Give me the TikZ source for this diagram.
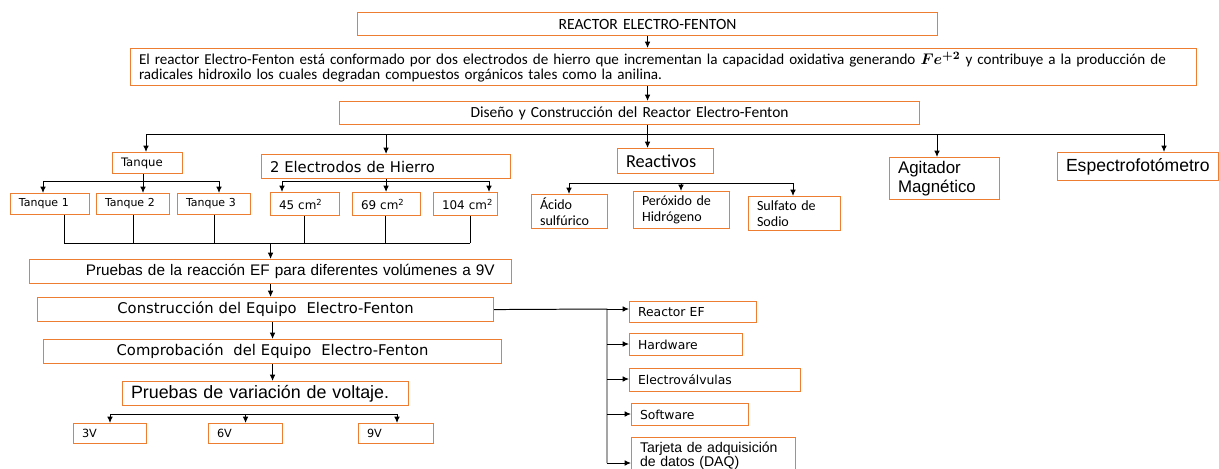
\documentclass[tikz,border=0pt]{standalone}
\usepackage{amsmath}
\usepackage{fontspec}
\setmainfont{Carlito}
\newfontfamily\verdana{DejaVu Sans}
\newfontfamily\arial{Liberation Sans}
\usetikzlibrary{arrows.meta}

\definecolor{naranja}{RGB}{237,125,49}
\newcommand\fc[2]{\fontsize{#1}{#2}\selectfont}
\newcommand\fv[2]{\verdana\fontsize{#1}{#2}\selectfont}
\newcommand\fa[2]{\arial\fontsize{#1}{#2}\selectfont}

\tikzset{
  caja/.style={draw=naranja, line width=0.8pt, anchor=north west, inner xsep=6pt, inner ysep=0pt, align=left},
  tam/.style 2 args={text width=#1*0.025cm-12pt, minimum height=#2*0.025cm},
  linea/.style={line width=0.7pt},
  flecha/.style={linea, -{Latex[length=4.5pt,width=4pt]}},
}

\begin{document}
\begin{tikzpicture}[x=0.025cm, y=-0.025cm]
\useasboundingbox (0,0) rectangle (1219,468);

% cabecera
\node[caja, tam={580}{23}, align=center, font=\fc{11.1}{12}] (titulo) at (357,12) {REACTOR ELECTRO-FENTON};
\node[caja, tam={1066}{37}, font=\fc{10.75}{10.9}] (parrafo) at (130,48) {El reactor Electro-Fenton está conformado por dos electrodos de hierro que incrementan la capacidad oxidativa generando $\boldsymbol{Fe^{+2}}$ y contribuye a la producción de\\radicales hidroxilo los cuales degradan compuestos orgánicos tales como la anilina.};
\node[caja, tam={580}{23}, align=center, font=\fc{11}{12}] (diseno) at (339,101) {Diseño y Construcción del Reactor Electro-Fenton};

% segundo nivel
\node[caja, tam={70}{21}, font=\fv{8.3}{10}] (tanque) at (112,152) {Tanque};
\node[caja, tam={249}{24}, font=\fv{10.5}{12}] (electrodos) at (261,154) {2 Electrodos de Hierro};
\node[caja, tam={96}{25}, font=\fc{13}{15}] (reactivos) at (617,148) {Reactivos};
\node[caja, tam={110}{42}, font=\fa{12}{13.5}] (agitador) at (889,157) {Agitador\\Magnético};
\node[caja, tam={161}{28}, font=\fa{12.5}{14}] (espectro) at (1057,152) {Espectrofotómetro};

% tanques y areas
\node[caja, tam={79}{21}, font=\fv{7.8}{9}] (tanque1) at (10,193) {Tanque 1};
\node[caja, tam={73}{21}, font=\fv{7.8}{9}] (tanque2) at (96,193) {Tanque 2};
\node[caja, tam={73}{21}, font=\fv{7.8}{9}] (tanque3) at (177,193) {Tanque 3};
\node[caja, tam={69}{23}, font=\fv{8.5}{10}] (a45) at (270,192) {45~cm\textsuperscript{2}};
\node[caja, tam={68}{23}, font=\fv{8.5}{10}] (a69) at (352,192) {69~cm\textsuperscript{2}};
\node[caja, tam={64}{23}, font=\fv{8.5}{10}] (a104) at (433,192) {\mbox{104~cm\textsuperscript{2}}};

% reactivos
\node[caja, tam={76}{34}, font=\fc{10}{11.5}] (acido) at (531,194) {Ácido\\sulfúrico};
\node[caja, tam={96}{37}, font=\fc{10}{11.5}] (peroxido) at (633,191) {Peróxido de\\Hidrógeno};
\node[caja, tam={92}{34}, font=\fc{10}{11.5}] (sulfato) at (748,196) {Sulfato de\\Sodio};

% cadena principal
\node[caja, tam={482}{24}, font=\fa{10.9}{13}] (pruebasEF) at (29,259) {\hspace*{34pt}Pruebas de la reacción EF para diferentes volúmenes a 9V};
\node[caja, tam={456}{24}, align=center, font=\fv{10.5}{12}] (construccion) at (37,297) {Construcción del Equipo\ \ Electro-Fenton};
\node[caja, tam={458}{24}, align=center, font=\fv{10.5}{12}] (comprobacion) at (43,339) {Comprobación\ \ del Equipo\ \ Electro-Fenton};
\node[caja, tam={286}{24}, font=\fa{12.7}{15}] (voltaje) at (122,381) {Pruebas de variación de voltaje.};
\node[caja, tam={73}{20}, font=\fv{8}{9}] (v3) at (73,423) {3V};
\node[caja, tam={74}{20}, font=\fv{8}{9}] (v6) at (208,423) {6V};
\node[caja, tam={75}{20}, font=\fv{8}{9}] (v9) at (358,423) {9V};

% equipo
\node[caja, tam={127}{21}, font=\fv{8.8}{10}] (reactorEF) at (629,301) {Reactor EF};
\node[caja, tam={113}{22}, font=\fv{8.8}{10}] (hardware) at (629,333) {Hardware};
\node[caja, tam={171}{23}, font=\fv{8.8}{10}] (electrovalvulas) at (629,368) {Electroválvulas};
\node[caja, tam={117}{22}, font=\fv{8.8}{10}] (software) at (631,403) {Software};
\node[caja, tam={164}{36}, font=\fa{10}{10}] (tarjeta) at (631,437) {Tarjeta de adquisición\\de datos (DAQ)};

% conectores de arriba
\draw[flecha] (titulo.south) -- (titulo.south |- parrafo.north);
\draw[flecha] (titulo.south |- parrafo.south) -- (titulo.south |- diseno.north);
\draw[flecha] (titulo.south |- diseno.south) -- (titulo.south |- reactivos.north);
\coordinate (busA) at (146,134);
\coordinate (busB) at (1164,134);
\coordinate (agx) at (937,134);
\draw[linea] (busA) -- (busB);
\draw[flecha] (busA) -- (busA |- tanque.north);
\draw[flecha] (electrodos.north |- busA) -- (electrodos.north);
\draw[flecha] (agx) -- (agx |- agitador.north);
\draw[flecha] (busB) -- (busB |- espectro.north);

% tanques
\coordinate (tqA) at (43,181);
\coordinate (tqB) at (219,181);
\coordinate (tqC) at (143,181);
\draw[linea] (tqA) -- (tqB);
\draw[flecha] (tqC |- tanque.south) -- (tqC |- tanque2.north);
\draw[flecha] (tqA) -- (tqA |- tanque1.north);
\draw[flecha] (tqB) -- (tqB |- tanque3.north);

% electrodos
\coordinate (elA) at (282,181);
\coordinate (elB) at (489,181);
\draw[linea] (elA) -- (elB);
\draw[flecha] (electrodos.south) -- (electrodos.south |- a69.north);
\draw[flecha] (elA) -- (elA |- a45.north);
\draw[flecha] (elB) -- (elB |- a104.north);

% reactivos
\coordinate (rqA) at (569,183);
\coordinate (rqB) at (793,183);
\coordinate (rqC) at (681,183);
\draw[linea] (rqA) -- (rqB);
\draw[flecha] (rqA) -- (rqA |- acido.north);
\draw[flecha] (rqC) -- (rqC |- peroxido.north);
\draw[flecha] (rqB) -- (rqB |- sulfato.north);

% colector hacia las pruebas
\coordinate (colA) at (64,243);
\coordinate (colB) at (470,243);
\draw[linea] (colA) -- (colB);
\foreach \n/\x in {tanque1/64, tanque2/133, tanque3/214, a45/304, a69/385, a104/470}
  \draw[linea] (\x,0 |- \n.south) -- (\x,243);
\draw[flecha] (pruebasEF.north |- colA) -- (pruebasEF.north);

% cadena
\draw[flecha] (pruebasEF.south) -- (pruebasEF.south |- construccion.north);
\draw[flecha] (comprobacion.north |- construccion.south) -- (comprobacion.north);
\draw[flecha] (comprobacion.south) -- (comprobacion.south |- voltaje.north);

% voltajes
\coordinate (vA) at (110,414);
\coordinate (vB) at (397,414);
\draw[linea] (vA) -- (vB);
\draw[flecha] (vA) -- (vA |- v3.north);
\draw[flecha] (v6.north |- vA) -- (v6.north);
\draw[flecha] (vB) -- (vB |- v9.north);

% partes del equipo
\coordinate (eqA) at (607,309);
\coordinate (eqB) at (607,463);
\draw[linea] (construccion.east) -- (eqA) -- (eqB);
\foreach \n/\y in {reactorEF/309, hardware/344, electrovalvulas/379, software/414, tarjeta/463}
  \draw[flecha] (607,\y) -- (\n.west |- 0,\y);
\end{tikzpicture}
\end{document}
